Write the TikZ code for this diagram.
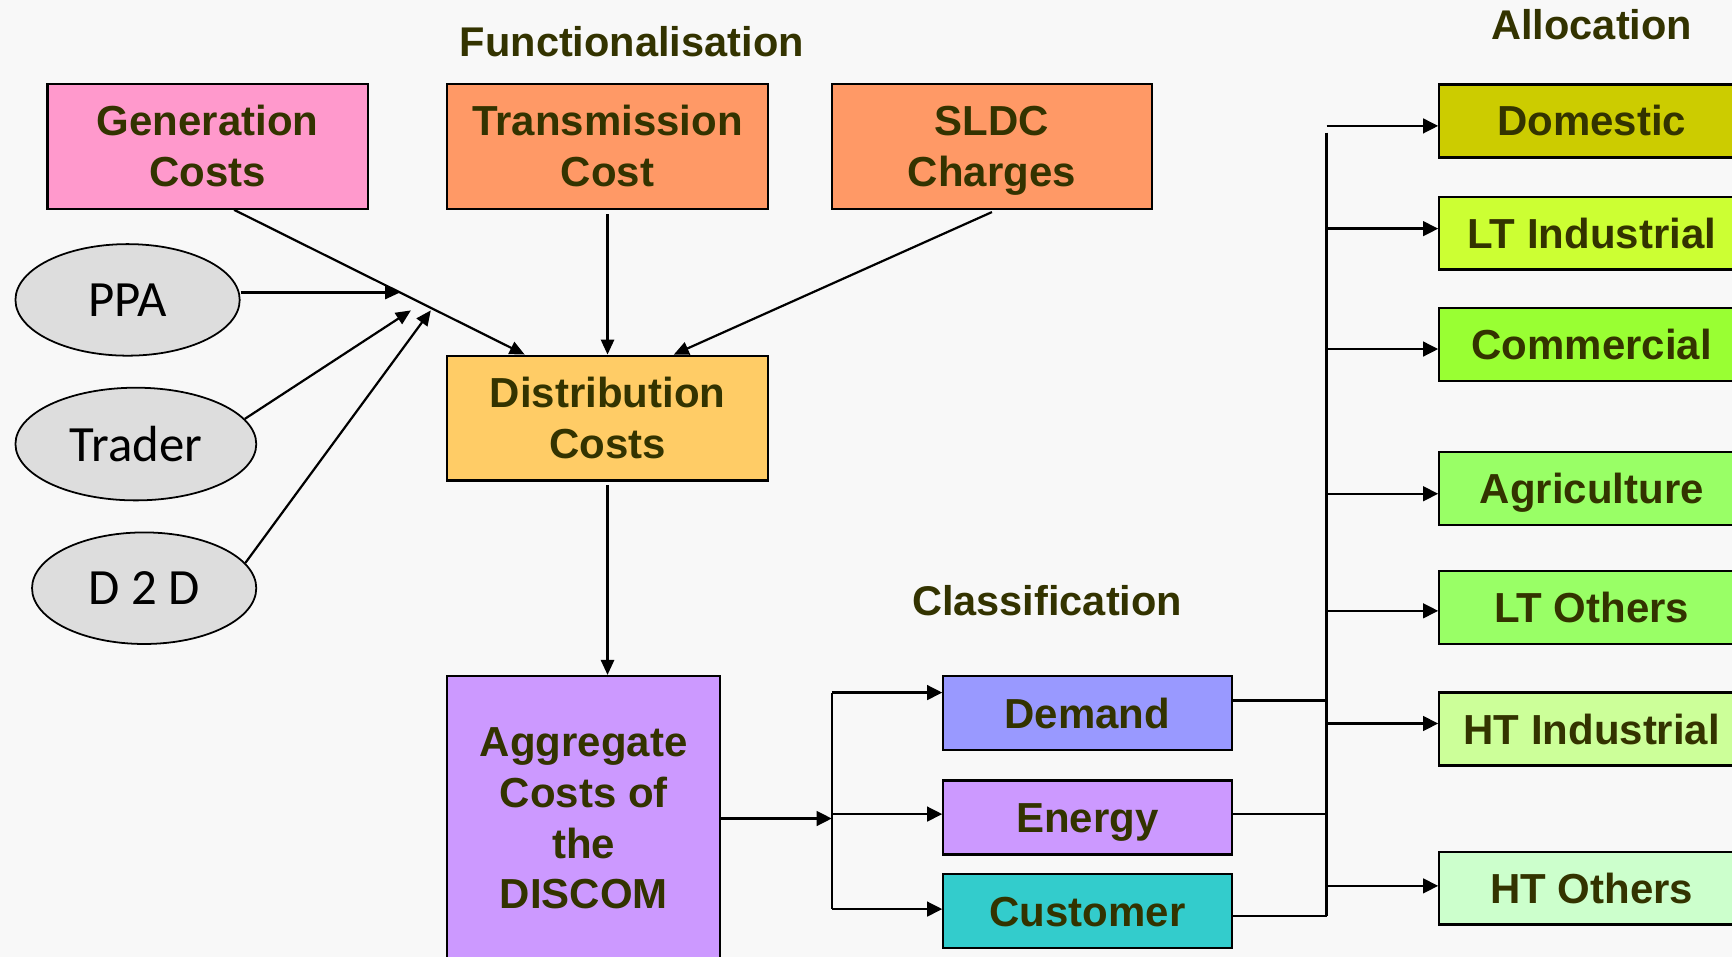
\documentclass[tikz,border=0pt]{standalone}
\usepackage{fontspec}
\setmainfont{Liberation Sans}
\newfontfamily\ellfont{Carlito}
\usetikzlibrary{shapes.geometric,arrows.meta,calc}
\definecolor{bgcol}{RGB}{248,248,248}
\definecolor{txt}{RGB}{51,51,0}
\definecolor{genpink}{RGB}{255,153,204}
\definecolor{orng}{RGB}{255,153,102}
\definecolor{distyel}{RGB}{255,204,102}
\definecolor{lilac}{RGB}{204,153,255}
\definecolor{demblue}{RGB}{153,153,255}
\definecolor{custeal}{RGB}{51,204,204}
\definecolor{domol}{RGB}{204,204,0}
\definecolor{ltind}{RGB}{204,255,51}
\definecolor{comgr}{RGB}{153,255,51}
\definecolor{agrgr}{RGB}{153,255,102}
\definecolor{htind}{RGB}{204,255,153}
\definecolor{htoth}{RGB}{204,255,204}
\definecolor{ellgray}{RGB}{221,221,221}
% a line whose descenders do not shift the vertical centring
\newcommand{\nodesc}[1]{\raisebox{0pt}[\height][0pt]{#1}}
\begin{document}
\begin{tikzpicture}[x=0.5pt,y=-0.5pt,
  box/.style={draw=black,line width=1pt,rectangle,inner sep=0pt,align=center,
    text=txt,font=\bfseries\fontsize{19}{23}\selectfont},
  topbox/.style={box,minimum width=145pt,minimum height=56.5pt},
  onebox/.style={box,text height=13.6pt,text depth=0pt},
  clsbox/.style={onebox,minimum width=130.5pt,minimum height=33.5pt},
  catbox/.style={onebox,minimum width=138pt,minimum height=33pt},
  src/.style={ellipse,draw=black,line width=0.8pt,fill=ellgray,inner sep=0pt,
    font=\ellfont\fontsize{23}{27}\selectfont},
  heading/.style={text=txt,font=\bfseries\fontsize{18.8}{22}\selectfont},
  thinarr/.style={line width=1pt,-{Triangle[length=6.8pt,width=6pt]}},
  busline/.style={line width=1.1pt},
  busarr/.style={line width=1.1pt,-{Triangle[length=6.8pt,width=6.6pt]}}]

\useasboundingbox (0,0) rectangle (1568,866);
\clip (0,0) rectangle (1568,866);
\fill[bgcol] (0,0) rectangle (1568,866);

% headings
\node[heading] (hfun) at (572,38) {Functionalisation};
\node[heading] (halloc) at (1441,22) {Allocation};
\node[heading] (hclass) at (948,544) {Classification};

% functional cost boxes
\node[topbox,fill=genpink] (gen) at (188,132.5) {Generation\\Costs};
\node[topbox,fill=orng] (trans) at (550,132.5) {Transmission\\Cost};
\node[topbox,fill=orng] (sldc) at (898,132.5) {SLDC\\\nodesc{Charges}};
\node[topbox,fill=distyel] (dist) at (550,378.5) {Distribution\\Costs};
\node[box,fill=lilac,minimum width=123.5pt,minimum height=129pt] (agg) at (528.5,741)
  {Aggregate\\Costs of\\the\\DISCOM};

% power purchase sources
\node[src,minimum width=101.5pt,minimum height=50.5pt] (ppa) at (115.5,271.5) {PPA};
\node[src,minimum width=109pt,minimum height=51pt] (trader) at (123,402) {Trader};
\node[src,minimum width=101.5pt,minimum height=50.5pt] (d2d) at (130.5,532.5) {D 2 D};

% classification boxes
\node[clsbox,fill=demblue] (dem) at (984.5,645.5) {Demand};
\node[clsbox,fill=lilac] (ene) at (984.5,740) {Energy};
\node[clsbox,fill=custeal] (cus) at (984.5,825) {Customer};

% consumer categories
\node[catbox,fill=domol] (dom) at (1441,109.5) {Domestic};
\node[catbox,fill=ltind] (lti) at (1441,211) {LT Industrial};
\node[catbox,fill=comgr] (com) at (1441,312) {Commercial};
\node[catbox,fill=agrgr] (agr) at (1441,442.5) {Agriculture};
\node[catbox,fill=agrgr] (lto) at (1441,550) {LT Others};
\node[catbox,fill=htind] (hti) at (1441,660) {HT Industrial};
\node[catbox,fill=htoth] (hto) at (1441,804) {HT Others};

% functionalisation connectors
\coordinate (gs) at ([xshift=12pt]gen.south);
\coordinate (dn) at ([xshift=-37.5pt]dist.north);
\draw[thinarr] (gs) -- (dn);
\coordinate (jp) at ($(gs)!0.571!(dn)$);
\draw[thinarr] (ppa.east |- jp) -- (jp);
\coordinate (jt) at (372,281);
\coordinate (jd) at (390,281);
\draw[thinarr] (trader.13) -- (jt);
\draw[thinarr] (d2d.14) -- (jd);
\coordinate (ts) at ([yshift=-2pt]trans.south);
\draw[thinarr] (ts) -- (dist.north);
\coordinate (ss) at ([yshift=-1pt]sldc.south);
\coordinate (dn2) at ([xshift=30pt]dist.north);
\draw[thinarr] (ss) -- (dn2);
\coordinate (ds) at ([yshift=-1.5pt]dist.south);
\draw[thinarr] (ds) -- (ds |- agg.north);

% classification connectors
\coordinate (lbt) at (753,627);
\coordinate (lbm) at (753,737);
\coordinate (lbb) at (753,823);
\draw[busarr] (agg.east) -- (lbm |- agg.east);
\draw[busline] (lbt) -- (lbb);
\draw[busarr] (lbt) -- (dem.west |- lbt);
\draw[busarr] (lbm) -- (ene.west |- lbm);
\draw[busarr] (lbb) -- (cus.west |- lbb);

% allocation connectors
\coordinate (rbt) at (1201,120);
\coordinate (rbb) at (1201,829);
\coordinate (de) at ([yshift=5.75pt]dem.east);
\coordinate (ee) at ([yshift=1.5pt]ene.east);
\coordinate (ce) at ([yshift=-2pt]cus.east);
\draw[busline] (rbt) -- (rbb);
\draw[busline] (de) -- (rbt |- de);
\draw[busline] (ee) -- (rbt |- ee);
\draw[busline] (ce) -- (rbt |- ce);
\foreach \tgt/\yy in {dom/114,lti/207,com/316,agr/447,lto/553,hti/655,hto/802}{
  \coordinate (bus-\tgt) at (1201,\yy);
  \draw[busarr] (bus-\tgt) -- (\tgt.west |- bus-\tgt);
}
\end{tikzpicture}
\end{document}
